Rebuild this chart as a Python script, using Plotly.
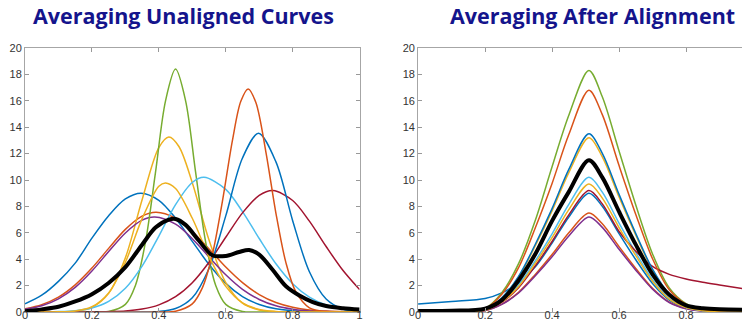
import plotly.graph_objects as go

# ---------------- data ----------------
TITLE_LEFT = "Averaging Unaligned Curves"
TITLE_RIGHT = "Averaging After Alignment"
X_TICKS = [0, 0.2, 0.4, 0.6, 0.8, 1]
X_TICK_LABELS = ["0", "0.2", "0.4", "0.6", "0.8", "1"]
Y_TICKS = [0, 2, 4, 6, 8, 10, 12, 14, 16, 18, 20]
Y_TICK_LABELS = ["0", "2", "4", "6", "8", "10", "12", "14", "16", "18", "20"]

# unaligned curves (left panel)
u_blue1_x = [0, .05, .1, .15, .2, .25, .3, .347, .4, .45, .5, .55, .6, .65, .7, .75, .8, .9, 1.0]
u_blue1_y = [.62, 1.27, 2.32, 3.7, 5.6, 7.3, 8.57, 9.0, 8.46, 7.11, 5.35, 3.6, 2.17, 1.17, .57, .24, .09, .01, 0]
u_orange1_x = [0, .05, .1, .15, .2, .25, .3, .35, .392, .45, .5, .55, .6, .65, .7, .75, .8, .85, .9, 1.0]
u_orange1_y = [.25, .56, 1.13, 2.06, 3.33, 4.82, 6.26, 7.26, 7.55, 7.1, 6.1, 4.78, 3.41, 2.23, 1.32, .72, .36, .16, .07, .01]
u_yellow1_x = [0, .1, .15, .2, .25, .3, .35, .4, .43, .46, .5, .55, .6, .65, .7, .75, .8, 1.0]
u_yellow1_y = [0, .01, .06, .34, 1.41, 4.11, 8.51, 12.46, 13.26, 12.54, 9.8, 5.45, 2.23, .67, .15, .02, 0, 0]
u_purple_x = [0, .05, .1, .15, .2, .25, .3, .35, .388, .45, .5, .55, .6, .65, .7, .75, .8, .85, .9, 1.0]
u_purple_y = [.2, .47, 1.0, 1.87, 3.11, 4.58, 5.99, 6.96, 7.2, 6.65, 5.55, 4.17, 2.82, 1.72, .95, .47, .21, .08, .03, 0]
u_green_x = [0, .2, .25, .3, .33, .36, .39, .42, .45, .48, .51, .54, .57, .6, .65, .7, 1.0]
u_green_y = [0, 0, .04, .58, 2.01, 5.29, 10.57, 16.0, 18.4, 16.0, 10.57, 5.29, 2.01, .58, .04, 0, 0]
u_lightblue_x = [0, .1, .15, .2, .25, .3, .35, .4, .45, .5, .535, .6, .65, .7, .75, .8, .85, .9, .95, 1.0]
u_lightblue_y = [0, .03, .1, .3, .8, 1.8, 3.48, 5.75, 8.13, 9.81, 10.2, 9.29, 7.6, 5.57, 3.65, 2.14, 1.13, .53, .22, .08]
u_darkred_x = [0, .1, .2, .3, .35, .4, .45, .5, .55, .6, .65, .7, .741, .8, .85, .9, .95, 1.0]
u_darkred_y = [0, 0, .01, .08, .22, .54, 1.16, 2.22, 3.77, 5.66, 7.51, 8.83, 9.2, 8.45, 6.88, 4.96, 3.16, 1.7]
u_blue2_x = [0, .35, .4, .45, .5, .55, .6, .65, .698, .75, .8, .85, .9, .95, 1.0]
u_blue2_y = [0, 0, .04, .26, 1.08, 3.3, 7.28, 11.67, 13.54, 11.37, 6.92, 3.05, .98, .22, .04]
u_orange2_x = [0, .4, .45, .5, .53, .56, .59, .62, .645, .667, .69, .72, .75, .78, .81, .85, .9, 1.0]
u_orange2_y = [0, 0, .06, .62, 1.83, 4.36, 8.38, 13.0, 15.96, 16.9, 15.87, 12.12, 7.48, 3.72, 1.5, .32, .03, 0]
u_yellow2_x = [0, .1, .15, .2, .25, .3, .35, .4, .42, .45, .5, .55, .6, .65, .7, .75, .8, 1.0]
u_yellow2_y = [0, .01, .08, .4, 1.45, 3.77, 7.07, 9.53, 9.78, 9.35, 7.1, 4.2, 1.94, .69, .19, .04, 0, 0]
u_mean_x = [0, .05, .1, .15, .2, .25, .3, .35, .39, .43, .45, .48, .52, .56, .6, .64, .67, .7, .74, .78, .82, .86, .9, .95, 1.0]
u_mean_y = [.05, .2, .4, .8, 1.35, 2.2, 3.4, 5.1, 6.4, 7.0, 7.05, 6.6, 5.4, 4.3, 4.25, 4.55, 4.7, 4.35, 3.2, 1.95, 1.25, .75, .45, .28, .18]

# aligned curves (right panel), common grid
a_x = [0, .1, .2, .25, .3, .35, .4, .45, .51, .55, .6, .65, .7, .75, .8, .85, .9, 1.0]
a_blue1_y = [.6, .8, 1.02, 1.45, 2.2, 3.42, 5.22, 7.2, 9.0, 8.01, 5.94, 3.96, 2.16, .9, .32, .09, 0, 0]
a_orange1_y = [0, 0, .11, .6, 1.5, 2.85, 4.35, 6.0, 7.5, 6.68, 4.95, 3.3, 1.8, .75, .26, .08, 0, 0]
a_yellow1_y = [0, 0, .2, 1.06, 2.64, 5.02, 7.66, 10.56, 13.2, 11.75, 8.71, 5.81, 3.17, 1.32, .46, .13, 0, 0]
a_purple_y = [0, 0, .11, .58, 1.44, 2.74, 4.18, 5.76, 7.2, 6.41, 4.75, 3.17, 1.73, .72, .25, .07, 0, 0]
a_green_y = [0, 0, .27, 1.46, 3.66, 6.95, 11.0, 14.9, 18.3, 16.3, 12.2, 8.1, 4.4, 1.83, .64, .18, 0, 0]
a_lightblue_y = [0, 0, .15, .82, 2.04, 3.88, 5.92, 8.16, 10.2, 9.08, 6.73, 4.49, 2.45, 1.02, .36, .1, 0, 0]
a_darkred_y = [0, 0, .14, .74, 1.84, 3.5, 5.34, 7.36, 9.2, 8.19, 6.1, 4.6, 3.45, 2.85, 2.5, 2.25, 2.05, 1.65]
a_blue2_y = [0, 0, .2, 1.08, 2.7, 5.13, 7.83, 10.8, 13.5, 12.02, 8.91, 5.94, 3.24, 1.35, .47, .14, 0, 0]
a_orange2_y = [0, 0, .25, 1.34, 3.36, 6.38, 9.74, 13.44, 16.8, 14.95, 11.09, 7.39, 4.03, 1.68, .59, .17, 0, 0]
a_yellow2_y = [0, 0, .15, .78, 1.94, 3.69, 5.63, 7.76, 9.7, 8.63, 6.4, 4.27, 2.33, .97, .34, .1, 0, 0]
a_mean_y = [.08, .1, .26, .9, 2.4, 4.4, 6.9, 9.1, 11.5, 10.2, 7.6, 5.1, 2.85, 1.3, .5, .28, .2, .17]

C_BLUE, C_ORANGE, C_YELLOW, C_PURPLE = "#0072BD", "#D95319", "#EDB120", "#7E2F8E"
C_GREEN, C_LIGHTBLUE, C_DARKRED = "#77AC30", "#4DBEEE", "#A2142F"

left_curves = [
    (u_blue1_x, u_blue1_y, C_BLUE), (u_orange1_x, u_orange1_y, C_ORANGE),
    (u_yellow1_x, u_yellow1_y, C_YELLOW), (u_purple_x, u_purple_y, C_PURPLE),
    (u_green_x, u_green_y, C_GREEN), (u_lightblue_x, u_lightblue_y, C_LIGHTBLUE),
    (u_darkred_x, u_darkred_y, C_DARKRED), (u_blue2_x, u_blue2_y, C_BLUE),
    (u_orange2_x, u_orange2_y, C_ORANGE), (u_yellow2_x, u_yellow2_y, C_YELLOW),
]
right_curves = [
    (a_blue1_y, C_BLUE), (a_orange1_y, C_ORANGE), (a_yellow1_y, C_YELLOW),
    (a_purple_y, C_PURPLE), (a_green_y, C_GREEN), (a_lightblue_y, C_LIGHTBLUE),
    (a_darkred_y, C_DARKRED), (a_blue2_y, C_BLUE), (a_orange2_y, C_ORANGE),
    (a_yellow2_y, C_YELLOW),
]

fig = go.Figure()
for xs, ys, c in left_curves:
    fig.add_trace(go.Scatter(x=xs, y=ys, mode="lines", line=dict(color=c, width=1.5, shape="spline", smoothing=0.9),
                             xaxis="x", yaxis="y", showlegend=False))
fig.add_trace(go.Scatter(x=u_mean_x, y=u_mean_y, mode="lines", line=dict(color="black", width=4, shape="spline", smoothing=0.9),
                         xaxis="x", yaxis="y", showlegend=False))
for ys, c in right_curves:
    fig.add_trace(go.Scatter(x=a_x, y=ys, mode="lines", line=dict(color=c, width=1.5, shape="spline", smoothing=0.9),
                             xaxis="x2", yaxis="y2", showlegend=False))
fig.add_trace(go.Scatter(x=a_x, y=a_mean_y, mode="lines", line=dict(color="black", width=4, shape="spline", smoothing=0.9),
                         xaxis="x2", yaxis="y2", showlegend=False))

tickfont = dict(family="Liberation Sans, Arial, sans-serif", size=11, color="#333333")
def xa(domain, anchor):
    return dict(domain=domain, anchor=anchor, range=[0, 1], tickvals=X_TICKS, ticktext=X_TICK_LABELS,
                ticks="inside", ticklen=4, tickcolor="#999999", showline=True, linecolor="#a6a6a6",
                linewidth=1, mirror="ticks", showgrid=False, zeroline=False, tickfont=tickfont,
                ticklabelstandoff=-7)
def ya(anchor):
    return dict(domain=[0, 1], anchor=anchor, range=[0, 20], tickvals=Y_TICKS, ticktext=Y_TICK_LABELS,
                ticks="inside", ticklen=4, tickcolor="#999999", showline=True, linecolor="#a6a6a6",
                linewidth=1, mirror="ticks", showgrid=False, zeroline=False, tickfont=tickfont)

title_font = dict(family="Open Sans, sans-serif", size=21.5, color="#14148c")
fig.update_layout(
    width=750, height=320,
    margin=dict(l=17, r=2, t=40, b=16),
    paper_bgcolor="white", plot_bgcolor="white",
    xaxis=xa([0, 0.4596], "y"), yaxis=ya("x"),
    xaxis2=xa([0.540, 1], "y2"), yaxis2=ya("x2"),
    annotations=[
        dict(text="<b>%s</b>" % TITLE_LEFT, x=(176 - 17) / 731, y=1 + (40 - 7) / 264, xref="paper", yref="paper",
             xanchor="center", yanchor="middle", showarrow=False, font=title_font),
        dict(text="<b>%s</b>" % TITLE_RIGHT, x=(586.5 - 17) / 731, y=1 + (40 - 7) / 264, xref="paper", yref="paper",
             xanchor="center", yanchor="middle", showarrow=False, font=title_font),
    ],
)
fig.write_html("out.html")
